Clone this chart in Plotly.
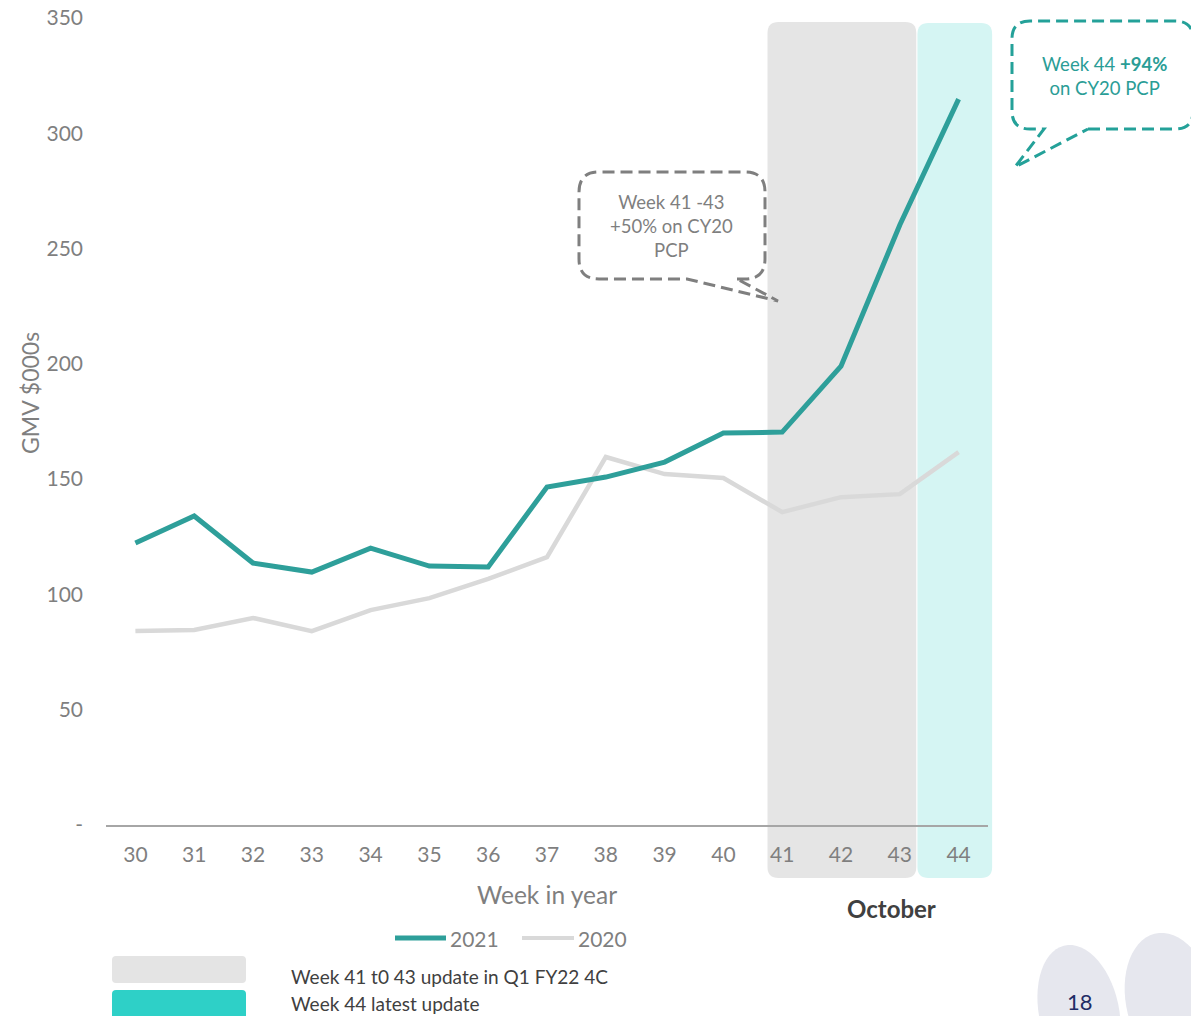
import numpy as np
import plotly.graph_objects as go

# ---- data ---------------------------------------------------------------
weeks = [30, 31, 32, 33, 34, 35, 36, 37, 38, 39, 40, 41, 42, 43, 44]
gmv_2021 = [122.3, 134.0, 113.6, 109.7, 120.1, 112.3, 111.9, 146.6, 150.9,
            157.4, 170.0, 170.4, 199.0, 260.2, 314.8]
gmv_2020 = [84.1, 84.6, 89.8, 84.1, 93.2, 98.4, 106.7, 116.2, 159.6,
            152.2, 150.5, 135.7, 142.2, 143.5, 161.7]
y_ticks = [0, 50, 100, 150, 200, 250, 300, 350]
y_tick_text = ["-", "50", "100", "150", "200", "250", "300", "350"]

# ---- styling ------------------------------------------------------------
FONT = "Lato"
TEAL = "#2E9F9A"
LIGHT = "#D9D9D9"
AX_GREY = "#7F7F7F"
DARK = "#404040"

W_PX, H_PX = 1191, 1016
L, R, T, B = 106, 988, 18, 825          # plot area in pixels
X_RANGE = [29.5, 44.5]
Y_RANGE = [0, 350]


def px_x(p):
    return (p - L) / (R - L)


def px_y(p):
    return (B - p) / (B - T)


def week_px(w):
    return L + (w - X_RANGE[0]) / (X_RANGE[1] - X_RANGE[0]) * (R - L)


def val_px(v):
    return B - (v - Y_RANGE[0]) / (Y_RANGE[1] - Y_RANGE[0]) * (B - T)


def pt(x, y):
    return f"{px_x(x):.5f},{px_y(y):.5f}"


def rounded_rect(x0, y0, x1, y1, r):
    return (f"M{pt(x0 + r, y0)} L{pt(x1 - r, y0)} Q{pt(x1, y0)} {pt(x1, y0 + r)} "
            f"L{pt(x1, y1 - r)} Q{pt(x1, y1)} {pt(x1 - r, y1)} "
            f"L{pt(x0 + r, y1)} Q{pt(x0, y1)} {pt(x0, y1 - r)} "
            f"L{pt(x0, y0 + r)} Q{pt(x0, y0)} {pt(x0 + r, y0)} Z")


def callout(x0, y0, x1, y1, r, gap_l, gap_r, tip):
    return (f"M{pt(gap_r, y1)} L{pt(x1 - r, y1)} Q{pt(x1, y1)} {pt(x1, y1 - r)} "
            f"L{pt(x1, y0 + r)} Q{pt(x1, y0)} {pt(x1 - r, y0)} "
            f"L{pt(x0 + r, y0)} Q{pt(x0, y0)} {pt(x0, y0 + r)} "
            f"L{pt(x0, y1 - r)} Q{pt(x0, y1)} {pt(x0 + r, y1)} "
            f"L{pt(gap_l, y1)} L{pt(*tip)} L{pt(gap_r, y1)}")


def ellipse(cx, cy, a, b, ang_deg, n=60):
    t = np.linspace(0, 2 * np.pi, n)
    th = np.deg2rad(ang_deg)
    xs = cx + a * np.cos(t) * np.cos(th) - b * np.sin(t) * np.sin(th)
    ys = cy + a * np.cos(t) * np.sin(th) + b * np.sin(t) * np.cos(th)
    return "M" + " L".join(pt(x, y) for x, y in zip(xs, ys)) + " Z"


fig = go.Figure()
fig.add_trace(go.Scatter(x=weeks, y=gmv_2020, mode="lines", name="2020",
                         line=dict(color=LIGHT, width=4.5), showlegend=False))
fig.add_trace(go.Scatter(x=weeks, y=gmv_2021, mode="lines", name="2021",
                         line=dict(color=TEAL, width=5), showlegend=False))

shapes = []
# highlighted October weeks
band_top, band_bot = val_px(348.3), 878
shapes.append(dict(type="path", xref="paper", yref="paper", layer="below",
                   path=rounded_rect(week_px(40.75), band_top, week_px(43.28), band_bot, 11),
                   fillcolor="#E5E5E5", line=dict(width=0)))
shapes.append(dict(type="path", xref="paper", yref="paper", layer="below",
                   path=rounded_rect(week_px(43.3), band_top + 1, week_px(44.57), band_bot, 11),
                   fillcolor="#D5F5F3", line=dict(width=0)))

# speech-bubble callouts
shapes.append(dict(type="path", xref="paper", yref="paper",
                   path=callout(1012, 21, 1193, 129, 18, 1044, 1088, (1015, 167)),
                   line=dict(color="#24A199", width=3, dash="12px,6px")))
shapes.append(dict(type="path", xref="paper", yref="paper",
                   path=callout(579, 172, 765, 279, 20, 687, 737, (778, 301)),
                   line=dict(color="#7F7F7F", width=3, dash="12px,6px")))

# series key
shapes.append(dict(type="line", xref="paper", yref="paper",
                   x0=px_x(395), x1=px_x(446), y0=px_y(938), y1=px_y(938),
                   line=dict(color=TEAL, width=5)))
shapes.append(dict(type="line", xref="paper", yref="paper",
                   x0=px_x(522), x1=px_x(574), y0=px_y(938), y1=px_y(938),
                   line=dict(color=LIGHT, width=4)))

# shading key
shapes.append(dict(type="path", xref="paper", yref="paper",
                   path=rounded_rect(112, 956, 246, 983, 4),
                   fillcolor="#E4E4E4", line=dict(width=0)))
shapes.append(dict(type="path", xref="paper", yref="paper",
                   path=rounded_rect(112, 990, 246, 1030, 4),
                   fillcolor="#2ED0C7", line=dict(width=0)))

# page-number blobs
shapes.append(dict(type="path", xref="paper", yref="paper", layer="below",
                   path=ellipse(1079, 1012, 40, 68, -12), fillcolor="#E6E7EE",
                   line=dict(width=0)))
shapes.append(dict(type="path", xref="paper", yref="paper", layer="below",
                   path=ellipse(1170, 1001, 44, 69, -12), fillcolor="#E6E7EE",
                   line=dict(width=0)))

annotations = [
    dict(text="Week 44 <b>+94%</b><br>on CY20 PCP", x=px_x(1104), y=px_y(76),
         font=dict(color="#2A9D96", size=18.5, family=FONT)),
    dict(text="Week 41 -43<br>+50% on CY20<br>PCP", x=px_x(671), y=px_y(226),
         font=dict(color="#7F7F7F", size=18.5, family=FONT)),
    dict(text="GMV $000s", x=px_x(30), y=px_y(393), textangle=-90,
         font=dict(color=AX_GREY, size=23, family=FONT)),
    dict(text="Week in year", x=px_x(547), y=px_y(894),
         font=dict(color=AX_GREY, size=24.5, family=FONT)),
    dict(text="<b>October</b>", x=px_x(891), y=px_y(909),
         font=dict(color=DARK, size=24, family=FONT)),
    dict(text="2021", x=px_x(448), y=px_y(938), xanchor="left",
         font=dict(color=AX_GREY, size=21, family=FONT)),
    dict(text="2020", x=px_x(576), y=px_y(938), xanchor="left",
         font=dict(color=AX_GREY, size=21, family=FONT)),
    dict(text="Week 41 t0 43 update in Q1 FY22 4C", x=px_x(289), y=px_y(976),
         xanchor="left", font=dict(color=DARK, size=19, family=FONT)),
    dict(text="Week 44 latest update", x=px_x(289), y=px_y(1003),
         xanchor="left", font=dict(color=DARK, size=19, family=FONT)),
    dict(text="18", x=px_x(1080), y=px_y(1002),
         font=dict(color="#1F2C66", size=22, family=FONT)),
]
for a in annotations:
    a.update(xref="paper", yref="paper", showarrow=False)
    a.setdefault("xanchor", "center")
    a.setdefault("yanchor", "middle")

fig.update_layout(
    width=W_PX, height=H_PX,
    margin=dict(l=L, r=W_PX - R, t=T, b=H_PX - B, pad=0, autoexpand=False),
    paper_bgcolor="white", plot_bgcolor="rgba(0,0,0,0)",
    font=dict(family=FONT, color=AX_GREY),
    shapes=shapes, annotations=annotations,
    xaxis=dict(range=X_RANGE, tickvals=weeks, showgrid=False, zeroline=False,
               showline=True, linecolor="#A6A6A6", linewidth=2, automargin=False,
               ticks="", tickfont=dict(size=21, color=AX_GREY),
               ticklabelstandoff=10),
    yaxis=dict(range=Y_RANGE, tickvals=y_ticks, ticktext=y_tick_text,
               showgrid=False, zeroline=False, showline=False, ticks="",
               automargin=False,
               tickfont=dict(size=21, color=AX_GREY), ticklabelstandoff=22),
)

fig.write_html("out.html")
